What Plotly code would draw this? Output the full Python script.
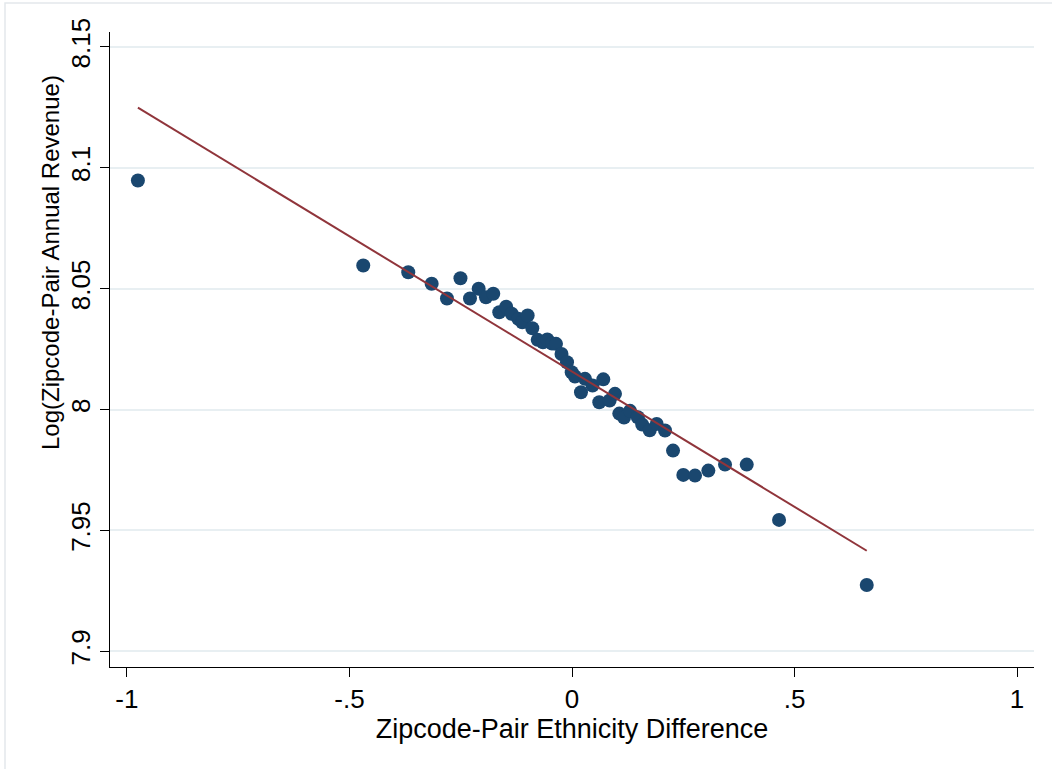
import plotly.graph_objects as go

# Binned scatter data
ethnicity_diff = [-0.9753, -0.4690, -0.3679, -0.3153, -0.2809, -0.2506, -0.2292, -0.2097,
                  -0.1933, -0.1769, -0.1634, -0.1479, -0.1355, -0.1207, -0.1117, -0.0996,
                  -0.0892, -0.0771, -0.0652, -0.0555, -0.0449, -0.0360, -0.0236, -0.0112,
                  -0.0007, 0.0067, 0.0202, 0.0292, 0.0461, 0.0613, 0.0703, 0.0845,
                  0.0966, 0.1063, 0.1169, 0.1303, 0.1479, 0.1578, 0.1746, 0.1903,
                  0.2090, 0.2270, 0.2501, 0.2764, 0.3063, 0.3438, 0.3926, 0.4652, 0.6622]
log_revenue = [8.09478, 8.05960, 8.05683, 8.05203, 8.04594, 8.05435, 8.04594, 8.05000,
               8.04648, 8.04793, 8.04027, 8.04251, 8.03961, 8.03754, 8.03613, 8.03891,
               8.03365, 8.02885, 8.02786, 8.02897, 8.02732, 8.02719, 8.02297, 8.01958,
               8.01544, 8.01366, 8.00716, 8.01271, 8.00993, 8.00302, 8.01250, 8.00373,
               8.00650, 7.99834, 7.99669, 7.99946, 7.99681, 7.99379, 7.99143, 7.99408,
               7.99131, 7.98303, 7.97297, 7.97268, 7.97475, 7.97724, 7.97724, 7.95435, 7.92744]

# Fitted line endpoints
fit_x = [-0.9753, 0.6622]
fit_y = [8.1249, 7.9416]

x_tickvals = [-1, -0.5, 0, 0.5, 1]
x_ticktext = ["-1", "-.5", "0", ".5", "1"]
y_tickvals = [7.9, 7.95, 8.0, 8.05, 8.1, 8.15]
y_ticktext = ["7.9", "7.95", "8", "8.05", "8.1", "8.15"]

x_title = "Zipcode-Pair Ethnicity Difference"
y_title = "Log(Zipcode-Pair Annual Revenue)"

FONT = "Liberation Sans, Arial, sans-serif"
PLOT_W, PLOT_H = 924, 635

fig = go.Figure()
fig.add_trace(go.Scatter(
    x=ethnicity_diff, y=log_revenue, mode="markers",
    marker=dict(size=14, color="#1a476f", line=dict(width=0)),
    showlegend=False, hoverinfo="x+y"))
fig.add_trace(go.Scatter(
    x=fit_x, y=fit_y, mode="lines",
    line=dict(color="#90353b", width=2),
    showlegend=False))

fig.update_layout(
    width=1052, height=769,
    margin=dict(l=110, r=18, t=32, b=102),
    paper_bgcolor="white", plot_bgcolor="white",
    font=dict(family=FONT, size=26, color="black"),
    xaxis=dict(
        range=[-1.038, 1.038], tickvals=x_tickvals, ticktext=x_ticktext,
        showgrid=False, zeroline=False,
        showline=True, linecolor="black", linewidth=1,
        ticks="outside", ticklen=9, tickcolor="black", tickwidth=1,
        tickfont=dict(size=26),
        title=dict(text=x_title, font=dict(size=27), standoff=0),
        automargin=False),
    yaxis=dict(
        range=[7.8935, 8.1562], tickvals=y_tickvals, ticktext=y_ticktext,
        showgrid=True, gridcolor="#E8EFF2", gridwidth=2, zeroline=False,
        showline=True, linecolor="black", linewidth=1,
        ticks="outside", ticklen=9, tickcolor="black", tickwidth=1,
        tickangle=-90, tickfont=dict(size=26),
        automargin=False),
    annotations=[dict(text=y_title, textangle=-90, xref="paper", yref="paper",
                      x=(50 - 110) / PLOT_W, y=(667 - 263) / PLOT_H,
                      xanchor="center", yanchor="middle", showarrow=False,
                      font=dict(size=24, family=FONT, color="black"))],
    shapes=[dict(type="rect", xref="paper", yref="paper",
                 x0=(5 - 110) / PLOT_W, x1=(1058 - 110) / PLOT_W,
                 y0=(667 - 775) / PLOT_H, y1=(667 - 3) / PLOT_H,
                 line=dict(color="#E3E8EB", width=1.5), fillcolor="rgba(0,0,0,0)",
                 layer="below")],
)

fig.write_html("out.html", config={"displayModeBar": False},
               post_script="document.body.style.margin='0';document.body.style.overflow='hidden';")
